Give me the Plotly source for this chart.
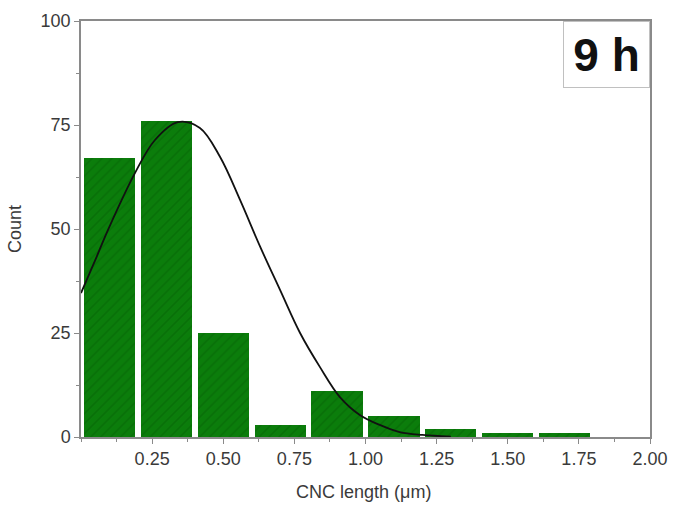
import plotly.graph_objects as go

# Histogram bins (centers, µm) and counts
bin_centers = [0.1, 0.3, 0.5, 0.7, 0.9, 1.1, 1.3, 1.5, 1.7]
counts = [67, 76, 25, 3, 11, 5, 2, 1, 1]

# Fitted curve
fit_x = [0.0, 0.05, 0.095, 0.19, 0.26, 0.34, 0.418, 0.489, 0.559, 0.63,
         0.70, 0.77, 0.84, 0.91, 0.98, 1.05, 1.12, 1.2, 1.3]
fit_y = [34.6, 42.5, 49.8, 63.5, 71.4, 75.7, 74.3, 67.3, 57, 45.7,
         35.3, 25, 16.8, 9.6, 5.3, 2.9, 1.2, 0.5, 0.1]

x_ticks = [0.25, 0.5, 0.75, 1.0, 1.25, 1.5, 1.75, 2.0]
x_ticktext = ["0.25", "0.50", "0.75", "1.00", "1.25", "1.50", "1.75", "2.00"]
y_ticks = [0, 25, 50, 75, 100]

FONT = "Liberation Sans, Arial"
TXT = "#3a3a3a"
AX = "#8a8a8a"

W, H = 676, 505
L, R, T, B = 81, 26, 21, 68
plot_w = W - L - R
plot_h = H - T - B

fig = go.Figure()
fig.add_trace(go.Bar(
    x=bin_centers, y=counts, width=0.18,
    marker=dict(color="#0b7d0b", line=dict(width=0),
                pattern=dict(shape="/", fgcolor="#066406", size=7, solidity=0.25)),
    showlegend=False,
))
fig.add_trace(go.Scatter(
    x=fit_x, y=fit_y, mode="lines",
    line=dict(color="#111111", width=1.8, shape="spline", smoothing=1.0),
    showlegend=False,
))

axis_common = dict(showgrid=False, zeroline=False, showline=True, linecolor=AX,
                   linewidth=1.5, mirror=True, ticks="outside", ticklen=5,
                   tickcolor=AX, automargin=False,
                   tickfont=dict(family=FONT, size=18, color=TXT))

fig.update_xaxes(range=[0, 2], tickvals=x_ticks, ticktext=x_ticktext,
                 minor=dict(ticks="outside", ticklen=3, dtick=0.125, tick0=0, tickcolor=AX),
                 **axis_common)
fig.update_yaxes(range=[0, 100], tickvals=y_ticks,
                 minor=dict(ticks="outside", ticklen=3, dtick=12.5, tick0=0, tickcolor=AX),
                 **axis_common)

# Axis titles
fig.add_annotation(
    x=(363 - L) / plot_w, y=-(492 - (H - B)) / plot_h, xref="paper", yref="paper",
    xanchor="center", yanchor="middle", text="CNC length (μm)", showarrow=False,
    font=dict(family=FONT, size=18, color=TXT),
)
fig.add_annotation(
    x=-(L - 15) / plot_w, y=((H - B) - 229) / plot_h, xref="paper", yref="paper",
    xanchor="center", yanchor="middle", text="Count", textangle=-90, showarrow=False,
    font=dict(family=FONT, size=18, color=TXT),
)

fig.add_annotation(
    x=1, y=1, xref="paper", yref="paper", xanchor="right", yanchor="top",
    text="<b>9 h</b>", showarrow=False,
    font=dict(family=FONT, size=46, color="#111111"),
    bgcolor="white", bordercolor="#c0c0c0", borderwidth=1, borderpad=0,
    width=85, height=65,
)

fig.update_layout(
    width=W, height=H,
    margin=dict(l=L, r=R, t=T, b=B),
    plot_bgcolor="white", paper_bgcolor="white",
    bargap=0,
)

fig.write_html("out.html", config={"displayModeBar": False},
               post_script="document.body.style.margin='0';document.body.style.overflow='hidden';")
